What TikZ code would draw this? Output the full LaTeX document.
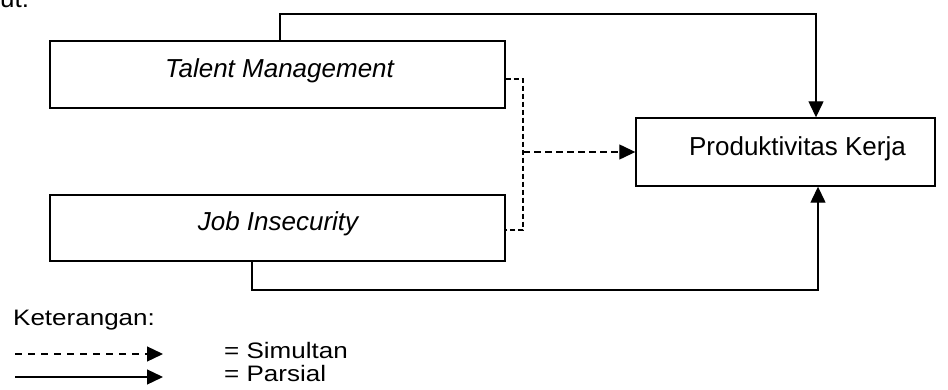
\documentclass[tikz,border=0pt]{standalone}
\usepackage{fontspec}
\setmainfont{Liberation Sans}
\usetikzlibrary{arrows.meta,calc}
\begin{document}
\begin{tikzpicture}[x=1pt,y=-1pt,
  box/.style={draw,line width=1.4pt,minimum width=455pt,minimum height=67pt,inner sep=0pt},
  tip/.style={-{Triangle[length=16pt,width=15pt]}},
  link/.style={line width=1.3pt,tip},
  dashlink/.style={line width=1.3pt,dash pattern=on 7pt off 4pt},
  bracket/.style={line width=1.3pt,dash pattern=on 5pt off 3pt},
  keydash/.style={line width=1.3pt,dash pattern=on 7pt off 6pt},
  lbl/.style={font=\fontsize{26}{30}\selectfont,inner sep=0pt}]
\newcommand{\keytext}[1]{\scalebox{1}[0.86]{#1}}
\useasboundingbox (0,0) rectangle (948,390);

% heading remainder at the page top
\node[lbl,anchor=base west] (head) at (0,8) {ut:};

% variable boxes
\node[box] (tm) at (277.5,74.5) {};
\node[box,minimum height=66pt] (ji) at (277.5,228) {};
\node[box,minimum width=299pt,minimum height=68pt] (pk) at (785.5,152) {};

% box labels, set on their baselines
\node[lbl,anchor=base] (tmt) at (279.5,78) {\itshape Talent Management};
\node[lbl,anchor=base] (jit) at (278,230.5) {\itshape Job Insecurity};
\node[lbl,anchor=base] (pkt) at (797.5,156) {Produktivitas Kerja};

% partial effects
\coordinate (t1) at (280,14);
\coordinate (t2) at (816,14);
\draw[link] (tm.north -| t1) -- (t1) -- (t2) -- (pk.north -| t2);
\coordinate (b1) at (252,290);
\coordinate (b2) at (818,290);
\draw[link] (ji.south -| b1) -- (b1) -- (b2) -- (pk.south -| b2);

% simultaneous effect
\coordinate (d1) at (523,79);
\coordinate (d2) at (523,230);
\draw[bracket] (tm.east |- d1) -- (d1) -- (d2) -- (ji.east |- d2);
\draw[dashlink,tip] (d1 |- pk.west) -- (pk.west);

% legend
\node[lbl,anchor=base west] (ket) at (13,325) {\keytext{Keterangan:}};
\coordinate (l1) at (15,354);
\coordinate (l2) at (163,354);
\coordinate (l3) at (15,377);
\coordinate (l4) at (163,377);
\draw[keydash,tip] (l1) -- (l2);
\draw[link] (l3) -- (l4);
\node[lbl,anchor=base west] (sim) at (224,358) {\keytext{= Simultan}};
\node[lbl,anchor=base west] (par) at (224,381) {\keytext{= Parsial}};
\end{tikzpicture}
\end{document}
